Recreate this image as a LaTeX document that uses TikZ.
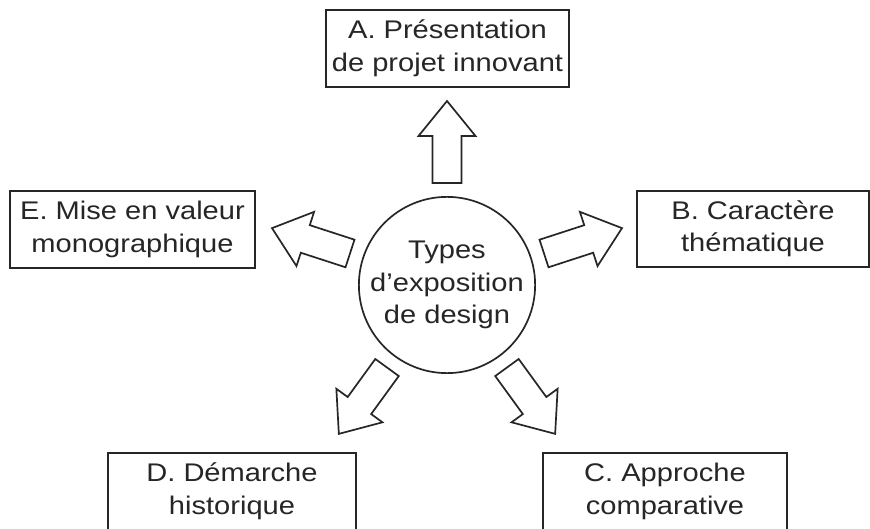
\documentclass[tikz,border=0pt]{standalone}
\usepackage{fontspec}
\setmainfont[FakeStretch=1.14]{Liberation Sans}
\begin{document}
\begin{tikzpicture}[x=1pt,y=-1pt,
  lbl/.style={font=\fontsize{25.5}{32.5}\selectfont, align=center, text=black!85},
  boxnode/.style={lbl, draw=black!85, line width=1.8pt, inner sep=0pt, minimum height=77pt},
  blockarrow/.style={draw=black!85, line width=1.7pt, fill=white, line join=miter}]
\useasboundingbox (0,0) rectangle (870,529);
\fill[white] (0,0) rectangle (870,529);
% centre
\node[lbl, draw=black!85, line width=1.7pt, circle, minimum size=176pt, inner sep=0pt] (c) at (447,285) {Types\\d’exposition\\de design};
% boxes
\node[boxnode, minimum width=243pt] (A) at (447.5,48.5) {A. Présentation\\de projet innovant};
\node[boxnode, minimum width=245pt] (E) at (132.5,229.5) {E. Mise en valeur\\monographique};
\node[boxnode, minimum width=232pt, minimum height=76pt] (B) at (753,229) {B. Caractère\\thématique};
\node[boxnode, minimum width=248pt] (D) at (232,491.5) {D. Démarche\\historique};
\node[boxnode, minimum width=244pt] (C) at (665,491.5) {C. Approche\\comparative};
% block arrows
\foreach \ang in {90,162,234,306,18}{
  \begin{scope}[shift={(c.center)}, rotate=\ang]
    \draw[blockarrow] (102,-14.5) -- (149,-14.5) -- (149,-28.5) -- (184,0) -- (149,28.5) -- (149,14.5) -- (102,14.5) -- cycle;
  \end{scope}
}
\end{tikzpicture}
\end{document}
